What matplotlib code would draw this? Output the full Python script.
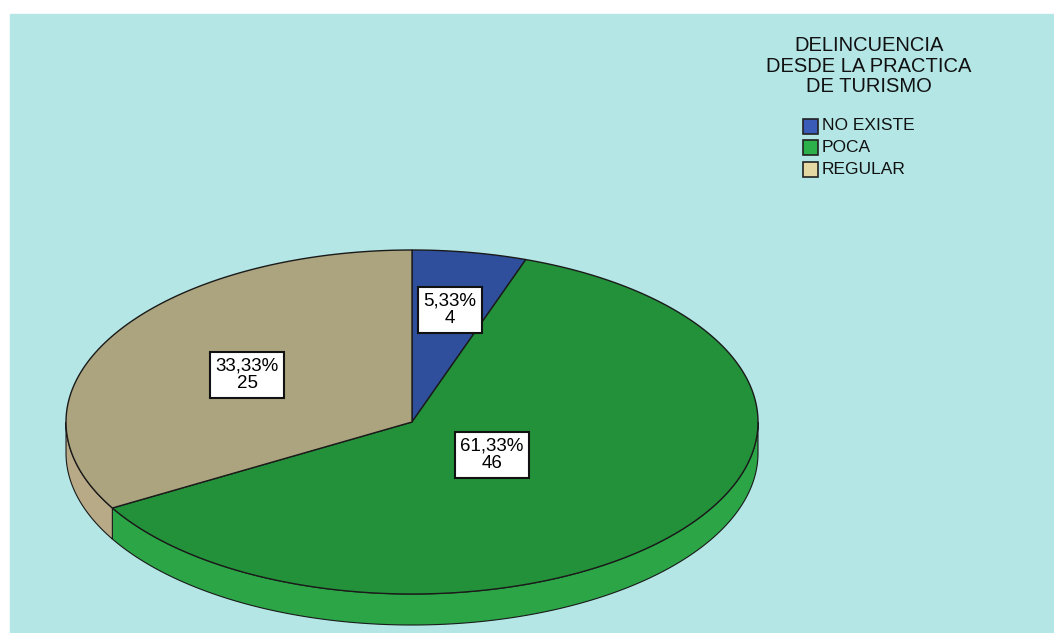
import matplotlib
matplotlib.use("Agg")
import matplotlib.pyplot as plt
from matplotlib.patches import Polygon, Rectangle
import numpy as np

# datos
categorias = ["NO EXISTE", "POCA", "REGULAR"]
frecuencias = [4, 46, 25]
titulo_leyenda = "DELINCUENCIA\nDESDE LA PRACTICA\nDE TURISMO"

# estilo
color_sup = ["#2f4f9c", "#23913a", "#aba47e"]
color_lado = ["#3556a8", "#2ba546", "#b8aa87"]
color_leyenda = ["#3a5cb8", "#2bb04a", "#e6d8a2"]
radio_etiqueta = [0.66, 0.30, 0.55]

plt.rcParams['font.family'] = ['Liberation Sans', 'DejaVu Sans']

fig = plt.figure(figsize=(10.54, 6.33), dpi=100, facecolor="white")
ax = fig.add_axes([0, 0, 1, 1])
ax.set_xlim(0, 1054)
ax.set_ylim(633, 0)
ax.axis("off")

# fondo
ax.add_patch(Rectangle((10, 14), 1054, 633, color="#b4e6e6", zorder=0))

# geometria del pastel (pixeles)
cx, cy, rx, ry, prof = 412, 422, 346, 172, 31


def punto(theta, dy=0):
    t = np.radians(theta)
    return cx + rx * np.sin(t), cy - ry * np.cos(t) + dy


total = sum(frecuencias)
fracs = [f / total for f in frecuencias]
inicio = np.cumsum([0] + fracs[:-1]) * 360

# paredes laterales (solo la mitad de adelante)
for i, fr in enumerate(fracs):
    a0, a1 = inicio[i], inicio[i] + fr * 360
    b0, b1 = max(a0, 90), min(a1, 270)
    if b1 <= b0:
        continue
    th = np.linspace(b0, b1, 200)
    arriba = [punto(t) for t in th]
    abajo = [punto(t, prof) for t in th[::-1]]
    ax.add_patch(Polygon(arriba + abajo, closed=True, fc=color_lado[i],
                         ec="#1a1a1a", lw=0.8, zorder=2))

# caras superiores
for i, fr in enumerate(fracs):
    a0, a1 = inicio[i], inicio[i] + fr * 360
    th = np.linspace(a0, a1, 300)
    pts = [(cx, cy)] + [punto(t) for t in th]
    ax.add_patch(Polygon(pts, closed=True, fc=color_sup[i],
                         ec="#1a1a1a", lw=1.0, zorder=3))

# etiquetas
for i, fr in enumerate(fracs):
    medio = np.radians(inicio[i] + fr * 180)
    r = radio_etiqueta[i]
    x = cx + rx * r * np.sin(medio)
    y = cy - ry * r * np.cos(medio)
    txt = f"{fr * 100:.2f}".replace(".", ",") + f"%\n{frecuencias[i]}"
    ax.text(x, y, txt, ha="center", va="center", ma="center", fontsize=13.5,
            linespacing=1.05, zorder=5,
            bbox=dict(boxstyle="square,pad=0.3", fc="white", ec="#111111", lw=1.5))

# leyenda
ax.text(869, 66, titulo_leyenda, ha="center", va="center", ma="center",
        fontsize=14.5, linespacing=1.12, color="#111111")
for i, cat in enumerate(categorias):
    y = 126 + i * 21.5
    ax.add_patch(Rectangle((803, y - 7.5), 15, 15, fc=color_leyenda[i],
                           ec="#222222", lw=1.2, zorder=4))
    ax.text(822, y, cat, ha="left", va="center", fontsize=12.5, color="#111111")

fig.savefig("out.png", dpi=100, facecolor="white")
